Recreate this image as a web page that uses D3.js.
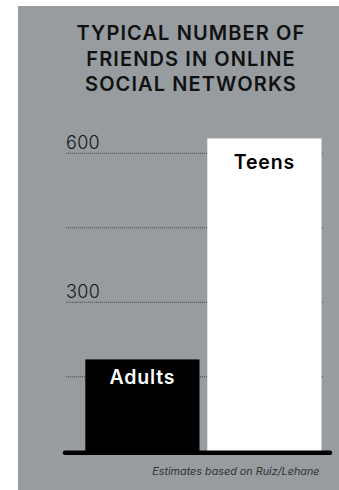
<!DOCTYPE html>
<html>
<head>
<meta charset="utf-8">
<script src="https://cdn.jsdelivr.net/npm/d3@7"></script>
<style>
  html, body { margin: 0; padding: 0; background: #ffffff; }
  svg { display: block; }
</style>
</head>
<body>
<script>
// Typical number of friends in online social networks
const groups = ["Adults", "Teens"];
const friends = [185, 630];
const gridValues = [150, 300, 450, 600];
const tickLabels = ["300", "600"];
const titleLines = ["TYPICAL NUMBER OF", "FRIENDS IN ONLINE", "SOCIAL NETWORKS"];
const sourceNote = "Estimates based on Ruiz/Lehane";

const W = 339, H = 490;
const font = "Inter, 'Liberation Sans', Arial, sans-serif";

const svg = d3.select("body").append("svg")
  .attr("width", W).attr("height", H);

// grey panel
svg.append("rect")
  .attr("x", 18).attr("y", 6)
  .attr("width", W - 18).attr("height", H - 6)
  .attr("fill", "#969c9f");

// title
svg.append("g").selectAll("text")
  .data(titleLines)
  .join("text")
  .attr("x", 191)
  .attr("y", (d, i) => 40 + i * 25.5)
  .attr("text-anchor", "middle")
  .attr("font-family", font)
  .attr("font-weight", 600)
  .attr("font-size", 20)
  .attr("letter-spacing", 1.1)
  .attr("fill", "#111")
  .text(d => d);

const y = d3.scaleLinear().domain([0, 600]).range([451.3, 153.3]);
const x = d3.scaleBand().domain(groups).range([85.3, 321.5])
  .paddingInner(0.064).paddingOuter(0);

// dotted gridlines
svg.append("g").selectAll("line")
  .data(gridValues)
  .join("line")
  .attr("x1", 66).attr("x2", 323)
  .attr("y1", d => y(d)).attr("y2", d => y(d))
  .attr("stroke", "#3a3d3f")
  .attr("stroke-width", 0.8)
  .attr("stroke-dasharray", "1.2,0.8");

// tick labels above their gridlines
svg.append("g").selectAll("text")
  .data(tickLabels)
  .join("text")
  .attr("x", 66)
  .attr("y", d => y(+d) - 4.5)
  .attr("font-family", font)
  .attr("font-weight", 300)
  .attr("font-size", 18)
  .attr("letter-spacing", 0.3)
  .attr("fill", "#161616")
  .text(d => d);

// bars
const barColor = { Adults: "#000000", Teens: "#ffffff" };
const labelColor = { Adults: "#ffffff", Teens: "#000000" };
svg.append("g").selectAll("rect")
  .data(groups)
  .join("rect")
  .attr("x", d => x(d))
  .attr("y", (d, i) => y(friends[i]))
  .attr("width", x.bandwidth())
  .attr("height", (d, i) => y(0) - y(friends[i]))
  .attr("fill", d => barColor[d]);

// bar labels inside the top of each bar
svg.append("g").selectAll("text")
  .data(groups)
  .join("text")
  .attr("x", d => x(d) + x.bandwidth() / 2)
  .attr("y", (d, i) => y(friends[i]) + (d === "Teens" ? 31 : 24.5))
  .attr("text-anchor", "middle")
  .attr("font-family", font)
  .attr("font-weight", 600)
  .attr("font-size", 19.5)
  .attr("letter-spacing", 0.8)
  .attr("fill", d => labelColor[d])
  .text(d => d);

// baseline
svg.append("line")
  .attr("x1", 65).attr("x2", 330)
  .attr("y1", y(0) + 1.5).attr("y2", y(0) + 1.5)
  .attr("stroke", "#000")
  .attr("stroke-width", 4.5)
  .attr("stroke-linecap", "round");

// source note
svg.append("text")
  .attr("x", 319.5)
  .attr("y", 475)
  .attr("text-anchor", "end")
  .attr("font-family", font)
  .attr("font-style", "italic")
  .attr("font-size", 10.8)
  .attr("fill", "#333")
  .text(sourceNote);
</script>
</body>
</html>
